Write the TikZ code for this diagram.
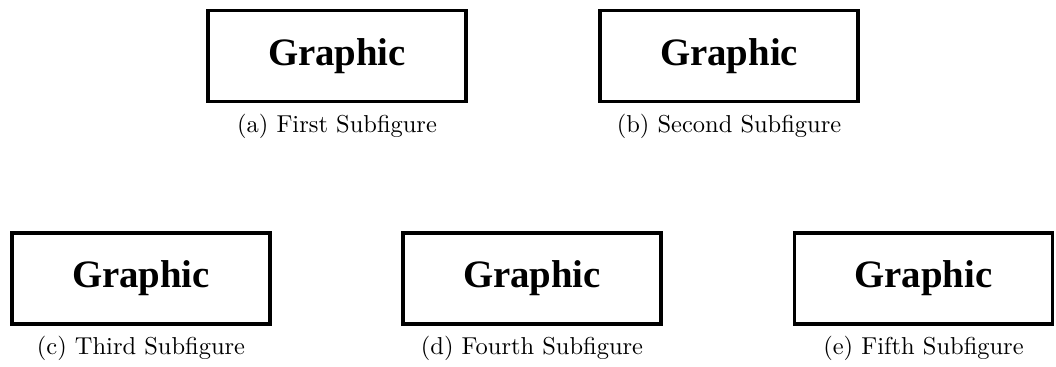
\documentclass[tikz,border=0pt]{standalone}
\usepackage{fontspec}
\newfontfamily\graphicfont{Liberation Serif}
\newfontfamily\capfont{lmroman10-regular.otf}
\usetikzlibrary{positioning}

\tikzset{
  graphicbox/.style={draw, line width=2.5pt, minimum width=6.45cm, minimum height=2.28cm,
    inner sep=0pt, font=\graphicfont\bfseries\fontsize{27.6}{30}\selectfont},
  subcap/.style={inner sep=0pt, font=\capfont\fontsize{17.4}{20}\selectfont}
}

\begin{document}
\begin{tikzpicture}[x=0.025cm, y=-0.025cm]
        \useasboundingbox (0,0) rectangle (1056,367);

        % Obere Reihe
        \node[graphicbox] (figA) at (337,56) {Graphic};
        \node[graphicbox] (figB) at (729,56) {Graphic};

        % Untere Reihe
        \node[graphicbox] (figC) at (141,278.5) {Graphic};
        \node[graphicbox] (figD) at (532,278.5) {Graphic};
        \node[graphicbox] (figE) at (923.5,278.5) {Graphic};

        % Unterschriften
        \node[subcap, below=0.25cm of figA] (capA) {(a) First Subfigure};
        \node[subcap, below=0.25cm of figB] (capB) {(b) Second Subfigure};
        \node[subcap, below=0.25cm of figC] (capC) {(c) Third Subfigure};
        \node[subcap, below=0.25cm of figD] (capD) {(d) Fourth Subfigure};
        \node[subcap, below=0.25cm of figE] (capE) {(e) Fifth Subfigure};

    \end{tikzpicture}
\end{document}
